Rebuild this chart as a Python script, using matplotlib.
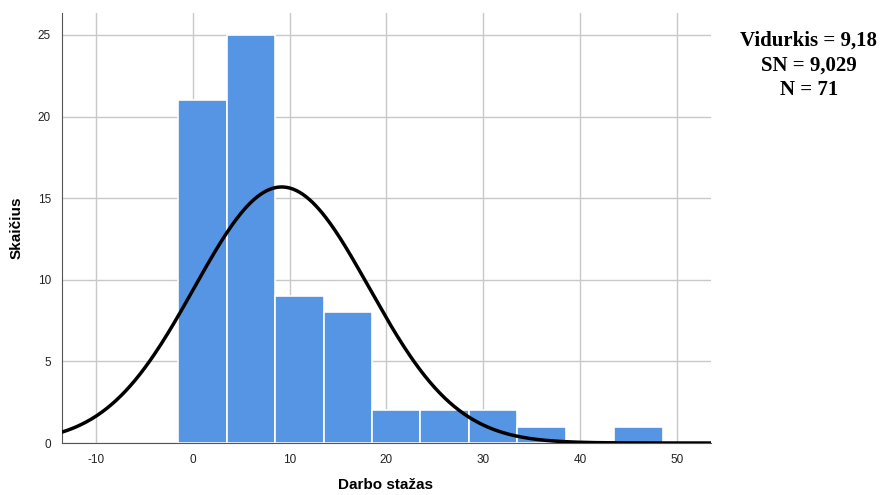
import numpy as np
import matplotlib
matplotlib.use('Agg')
import matplotlib.pyplot as plt

plt.rcParams['font.family'] = ['Liberation Sans', 'DejaVu Sans']
plt.rcParams['axes.unicode_minus'] = False

# histogram bins (left edges) and counts
bin_left = [-1.5, 3.5, 8.5, 13.5, 18.5, 23.5, 28.5, 33.5, 38.5, 43.5]
counts = [21, 25, 9, 8, 2, 2, 2, 1, 0, 1]
bin_width = 5.0

mean = 9.18
sd = 9.029
n = 71

x_ticks = [-10, 0, 10, 20, 30, 40, 50]
y_ticks = [0, 5, 10, 15, 20, 25]

fig = plt.figure(figsize=(8.81, 4.95), dpi=100)
ax = fig.add_axes([0.0704, 0.105, 0.7366, 0.869])

ax.bar(bin_left, counts, width=bin_width, align='edge', color='#5595E3',
       edgecolor='white', linewidth=1.2, zorder=2)

xs = np.linspace(-13.5, 53.5, 400)
ys = n * bin_width / (sd * np.sqrt(2 * np.pi)) * np.exp(-0.5 * ((xs - mean) / sd) ** 2)
ax.plot(xs, ys, color='black', linewidth=2.5, zorder=3)

ax.set_xlim(-13.5, 53.5)
ax.set_ylim(0, 26.35)
ax.set_xticks(x_ticks)
ax.set_yticks(y_ticks)
ax.grid(True, color='#c8c8c8', linewidth=1, zorder=0)
ax.set_axisbelow(True)
ax.tick_params(length=0, labelsize=8.5, colors='#222222', pad=8)
for s in ['top', 'right']:
    ax.spines[s].set_visible(False)
ax.spines['left'].set_color('#555555')
ax.spines['bottom'].set_color('#555555')

fig.text(386 / 881, 1 - 485 / 495, 'Darbo stažas', ha='center', va='center',
         fontsize=11, fontweight='bold')
ax.set_ylabel('Skaičius', fontsize=11, fontweight='bold', labelpad=10)

stats = ['Vidurkis = 9,18', 'SN = 9,029', 'N = 71']
for i, t in enumerate(stats):
    fig.text(0.918, 1 - (41 + 24.5 * i) / 495, t, ha='center', va='center',
             fontsize=15, fontweight='bold', family='Liberation Serif')

fig.savefig('out.png', dpi=100)
